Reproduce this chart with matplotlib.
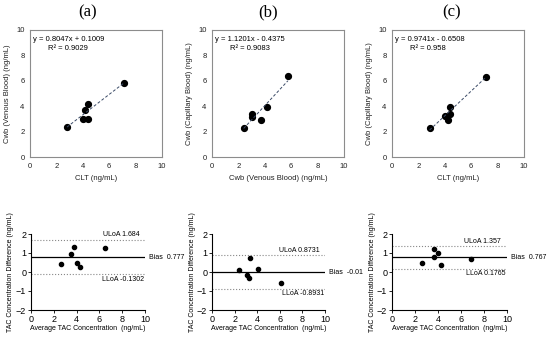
import numpy as np
import matplotlib
matplotlib.use("Agg")
import matplotlib.pyplot as plt

plt.rcParams['font.family'] = ['Liberation Sans', 'DejaVu Sans']

# regression panels (top row)
panel_titles = ['(a)', '(b)', '(c)']
reg_x = [
    [2.8, 4.0, 4.4, 4.2, 4.4, 7.1],
    [2.4, 3.05, 3.05, 3.7, 4.15, 5.75],
    [2.85, 4.05, 4.25, 4.42, 4.42, 7.12],
]
reg_y = [
    [2.4, 3.0, 3.0, 3.7, 4.2, 5.8],
    [2.25, 3.37, 3.18, 2.95, 3.93, 6.35],
    [2.25, 3.2, 2.95, 3.35, 3.92, 6.3],
]
slopes = [0.8047, 1.1201, 0.9741]
intercepts = [0.1009, -0.4375, -0.6508]
eq_labels = ['y = 0.8047x + 0.1009', 'y = 1.1201x - 0.4375', 'y = 0.9741x - 0.6508']
r2_labels = ['R² = 0.9029', 'R² = 0.9083', 'R² = 0.958']
reg_xlabels = ['CLT (ng/mL)', 'Cwb (Venous Blood) (ng/mL)', 'CLT (ng/mL)']
reg_ylabels = ['Cwb (Venous Blood) (ng/mL)', 'Cwb (Capillary Blood) (ng/mL)',
               'Cwb (Capillary Blood) (ng/mL)']

# Bland-Altman panels (bottom row)
ba_avg = [
    [2.6, 3.55, 3.8, 4.0, 4.3, 6.5],
    [2.35, 3.12, 3.25, 3.38, 4.1, 6.1],
    [2.65, 3.68, 3.68, 4.0, 4.3, 6.85],
]
ba_diff = [
    [0.42, 0.95, 1.3, 0.48, 0.25, 1.28],
    [0.1, -0.15, -0.33, 0.74, 0.15, -0.6],
    [0.5, 1.2, 0.79, 1.0, 0.38, 0.7],
]
bias = [0.777, -0.01, 0.767]
uloa = [1.684, 0.8731, 1.357]
lloa = [-0.1302, -0.8931, 0.1765]
bias_labels = ['Bias  0.777', 'Bias  -0.01', 'Bias  0.767']
uloa_labels = ['ULoA 1.684', 'ULoA 0.8731', 'ULoA 1.357']
lloa_labels = ['LLoA -0.1302', 'LLoA -0.8931', 'LLoA 0.1765']

W, H = 550, 339
fig = plt.figure(figsize=(W / 100, H / 100), dpi=100)

top_left = [30, 212, 392]
top_w = 132
bot_left = [31, 212, 392]
bot_w = [114, 113, 115]
title_x = [88, 268, 452]
fs = 5.5
bfs = 5.0

for i in range(3):
    # ---- top row: scatter with linear fit
    ax = fig.add_axes([top_left[i] / W, (H - 157) / H, top_w / W, 127 / H])
    ax.plot(reg_x[i], reg_y[i], 'o', color='black', markersize=4.2)
    xs = np.array([min(reg_x[i]), max(reg_x[i])])
    ax.plot(xs, slopes[i] * xs + intercepts[i], '--', color='#3a4a66',
            linewidth=0.7, dashes=(3, 2))
    ax.set_xlim(0, 10)
    ax.set_ylim(0, 10)
    ax.set_xticks(range(0, 11, 2))
    ax.set_yticks(range(0, 11, 2))
    ax.tick_params(length=0, labelsize=fs, pad=4, colors='#222222')
    for s in ax.spines.values():
        s.set_color('#8c8c8c')
        s.set_linewidth(0.8)
    ax.text(0.02, 0.955, eq_labels[i], transform=ax.transAxes, fontsize=fs,
            va='top', ha='left')
    ax.text(0.14, 0.885, r2_labels[i], transform=ax.transAxes, fontsize=fs,
            va='top', ha='left')
    ax.set_ylabel(reg_ylabels[i], fontsize=fs, labelpad=4, color='#222222')
    fig.text(title_x[i] / W, 1 - 12 / H, panel_titles[i], fontsize=12,
             family='Liberation Serif', ha='center', va='center')
    fig.text((top_left[i] + top_w / 2) / W, 1 - 178 / H, reg_xlabels[i],
             fontsize=fs, ha='center', va='center', color='#222222')

    # ---- bottom row: Bland-Altman
    bx = fig.add_axes([bot_left[i] / W, (H - 310) / H, bot_w[i] / W, 76 / H])
    bx.plot(ba_avg[i], ba_diff[i], 'o', color='black', markersize=3.0)
    bx.axhline(bias[i], color='black', linewidth=0.9)
    bx.axhline(uloa[i], color='#888888', linewidth=0.8, linestyle=':')
    bx.axhline(lloa[i], color='#888888', linewidth=0.8, linestyle=':')
    bx.text(9.5, uloa[i] + 0.08, uloa_labels[i], fontsize=bfs, ha='right', va='bottom')
    bx.text(9.9, lloa[i] - 0.08, lloa_labels[i], fontsize=bfs, ha='right', va='top')
    bx.text(10.35, bias[i], bias_labels[i], fontsize=bfs, ha='left', va='center',
            clip_on=False)
    bx.set_xlim(0, 10)
    bx.set_ylim(-2, 2)
    bx.set_xticks(range(0, 11, 2))
    bx.set_yticks(range(-2, 3))
    bx.spines['top'].set_visible(False)
    bx.spines['right'].set_visible(False)
    for s in ('left', 'bottom'):
        bx.spines[s].set_linewidth(0.8)
    bx.tick_params(length=2, width=0.6, labelsize=fs + 1, pad=1.5)
    bx.set_xlabel('Average TAC Concentration  (ng/mL)', fontsize=bfs, labelpad=1)
    bx.set_ylabel('TAC Concentration Difference (ng/mL)', fontsize=bfs, labelpad=1)

fig.savefig('out.png', dpi=100)
